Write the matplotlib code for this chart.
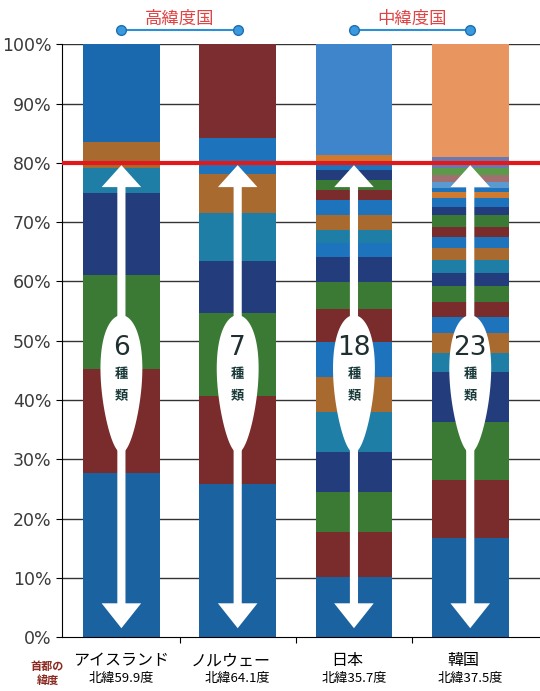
import numpy as np
import matplotlib.pyplot as plt
from matplotlib.patches import Polygon

plt.rcParams['font.family'] = ['Noto Sans CJK JP', 'DejaVu Sans']

# データ（下から順に各層の割合 %）
countries = ['アイスランド', 'ノルウェー', '日本', '韓国']
latitudes = ['北緯59.9度', '北緯64.1度', '北緯35.7度', '北緯37.5度']
species = [6, 7, 18, 23]

iceland_shares = [27.7, 17.5, 15.8, 13.9, 4.2, 4.4, 16.5]
norway_shares = [25.8, 14.8, 14.0, 8.8, 8.1, 6.6, 6.0, 15.9]
japan_shares = [10.1, 7.6, 6.8, 6.7, 6.7, 5.9, 5.9, 5.6, 4.6, 4.2,
                2.3, 2.2, 2.6, 2.5, 1.7, 1.7, 1.7, 1.5, 1.0, 18.7]
korea_shares = [16.7, 9.8, 9.8, 8.4, 3.2, 3.4, 2.7, 2.5, 2.7, 2.2, 2.2,
                2.0, 1.9, 1.6, 2.1, 1.3, 1.5, 1.0, 0.7, 1.0, 1.2, 1.2,
                1.9, 19.0]

# 色
B, R, G, N, T, O, LB = ('#1b62a0', '#7a2b2c', '#3b7a34', '#233c7c',
                        '#1f7ea6', '#a86a2e', '#1e74bc')
iceland_colors = [B, R, G, N, T, O, '#1a68ad']
norway_colors = [B, R, G, N, T, O, LB, '#7b2d30']
japan_colors = [B, R, G, N, T, O, LB, R, G, N, LB, T, O, LB, R, G, N, LB,
                '#d07a30', '#3f85cb']
korea_colors = [B, R, G, N, T, O, LB, R, G, N, T, O, LB, R, G, N, LB,
                '#d07a30', LB, '#5a9ad0', '#a07070', '#5a9a4a', '#6a7ab0',
                '#e99560']

all_shares = [iceland_shares, norway_shares, japan_shares, korea_shares]
all_colors = [iceland_colors, norway_colors, japan_colors, korea_colors]

fig = plt.figure(figsize=(5.4, 6.91), dpi=100)
ax = fig.add_axes([0.115, 0.078, 0.885, 0.858])

x = np.arange(len(countries))
width = 0.66

# 目盛線
for v in range(10, 101, 10):
    ax.axhline(v, color='#333333', lw=1, zorder=1)

# 積み上げ棒
for i, (shares, cols) in enumerate(zip(all_shares, all_colors)):
    bottom = 0
    for s, c in zip(shares, cols):
        ax.bar(x[i], s, width, bottom=bottom, color=c, zorder=2, linewidth=0)
        bottom += s

# 80% の赤線
ax.axhline(80, color='#e0191c', lw=3, zorder=4)

# 白い矢印と楕円
top_tip, bot_tip = 79.6, 1.5
hw, sw = 0.17, 0.035
for i, n in enumerate(species):
    xc = x[i]
    pts = [(xc, top_tip), (xc + hw, top_tip - 3.7), (xc + sw, top_tip - 3.7),
           (xc + sw, bot_tip + 4.2), (xc + hw, bot_tip + 4.2), (xc, bot_tip),
           (xc - hw, bot_tip + 4.2), (xc - sw, bot_tip + 4.2),
           (xc - sw, top_tip - 3.7), (xc - hw, top_tip - 3.7)]
    ax.add_patch(Polygon(pts, closed=True, fc='white', ec='none', zorder=5))
    s = np.linspace(-1, 1, 200)
    half = 0.175 * np.sqrt(1 - s ** 2) * (1 + 0.25 * s)
    ys = 42.7 + 11.6 * s
    egg = np.concatenate([np.column_stack([xc + half, ys]),
                          np.column_stack([xc - half[::-1], ys[::-1]])])
    ax.add_patch(Polygon(egg, closed=True, fc='white', ec='none', zorder=5))
    ax.text(xc, 48.7, str(n), ha='center', va='center', fontsize=19,
            color='#1f2f30', zorder=6, family='DejaVu Sans')
    ax.text(xc, 44.4, '種', ha='center', va='center', fontsize=9.5,
            fontweight='bold', color='#1a3a3a', zorder=6)
    ax.text(xc, 40.6, '類', ha='center', va='center', fontsize=9.5,
            fontweight='bold', color='#1a3a3a', zorder=6)

# 上部の見出し
for (a, b), label in [((0, 1), '高緯度国'), ((2, 3), '中緯度国')]:
    ax.plot([x[a], x[b]], [102.4, 102.4], color='#2e8fd6', lw=1.5,
            marker='o', ms=7, mfc='#3a9ae0', mec='#1f6fb0', clip_on=False,
            zorder=6)
    ax.text((x[a] + x[b]) / 2, 104.3, label, ha='center', va='center',
            fontsize=12.5, color='#e04545', clip_on=False)

ax.set_xlim(-0.51, 3.6)
ax.set_ylim(0, 100)
ax.set_yticks(range(0, 101, 10))
ax.set_yticklabels([f'{v}%' for v in range(0, 101, 10)], fontsize=12.5,
                   color='#3a3a3a', family='DejaVu Sans')
ax.set_xticks([0.5, 1.5, 2.5])
ax.set_xticklabels([])
ax.tick_params(axis='x', direction='out', length=4)
ax.tick_params(axis='y', direction='out', length=4)
for sp in ['top', 'right']:
    ax.spines[sp].set_visible(False)

# 国名と緯度
for i in range(len(countries)):
    shift = 0.0 if i == 0 else -0.06
    ax.text(x[i] + shift, -4.0, countries[i], ha='center', va='center',
            fontsize=11.5, clip_on=False)
    ax.text(x[i], -6.9, latitudes[i], ha='center', va='center', fontsize=9.5,
            clip_on=False)
fig.text(0.088, 0.026, '首都の\n緯度', ha='center', va='center', fontsize=8,
         fontweight='bold', color='#8a2a20', linespacing=1.1)

fig.savefig('out.png', dpi=100)
